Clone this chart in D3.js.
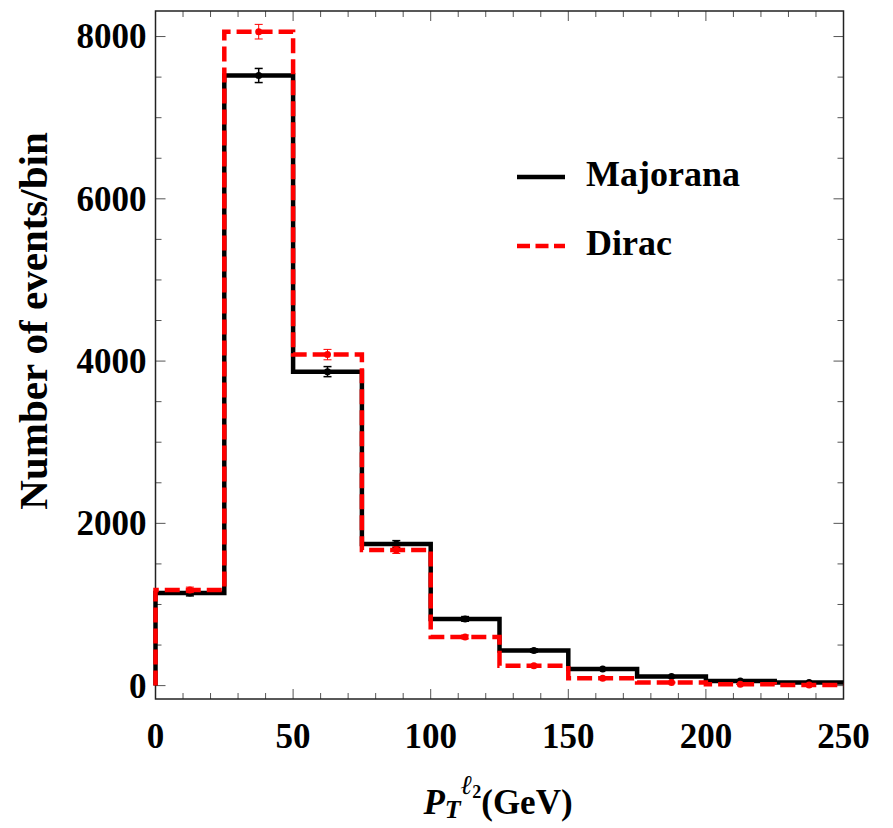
<!DOCTYPE html>
<html>
<head>
<meta charset="utf-8">
<script src="https://cdn.jsdelivr.net/npm/d3@7"></script>
<style>
  body { margin: 0; background: #fff; }
  text { font-family: "Liberation Serif", "Times New Roman", serif; font-weight: bold; }
</style>
</head>
<body>
<svg id="chart" width="893" height="828"></svg>
<script>
// bin edges (GeV) and events per bin
const binEdges = [0, 25, 50, 75, 100, 125, 150, 175, 200, 225, 250];
const majorana = [1140, 7520, 3870, 1745, 822, 432, 206, 111, 58, 37];
const dirac = [1180, 8060, 4080, 1670, 600, 245, 92, 38, 18, 8];
const majoranaErr = [34, 87, 62, 42, 29, 21, 14, 11, 8, 6];
const diracErr = [34, 90, 64, 41, 24, 16, 10, 6, 4, 3];
const xTicks = [0, 50, 100, 150, 200, 250];
const yTicks = [0, 2000, 4000, 6000, 8000];

const svg = d3.select("#chart");

const x = d3.scaleLinear().domain([0, 250]).range([155.5, 843.5]);
const y = d3.scaleLinear().domain([-165, 8315]).range([699, 11]);

const plotL = x.range()[0], plotR = x.range()[1];
const plotT = y.range()[1], plotB = y.range()[0];

// ticks (inward, on all four sides)
const ticks = svg.append("g").attr("stroke", "#555").attr("stroke-width", 1);
d3.range(0, 251, 10).forEach(v => {
    const len = v % 50 === 0 ? 10 : 6;
    ticks.append("line").attr("x1", x(v)).attr("x2", x(v)).attr("y1", plotB).attr("y2", plotB - len);
    ticks.append("line").attr("x1", x(v)).attr("x2", x(v)).attr("y1", plotT).attr("y2", plotT + len);
});
d3.range(0, 8001, 500).forEach(v => {
    const len = v % 2000 === 0 ? 10 : 6;
    ticks.append("line").attr("y1", y(v)).attr("y2", y(v)).attr("x1", plotL).attr("x2", plotL + len);
    ticks.append("line").attr("y1", y(v)).attr("y2", y(v)).attr("x1", plotR).attr("x2", plotR - len);
});

// frame
svg.append("rect")
    .attr("x", plotL).attr("y", plotT)
    .attr("width", plotR - plotL).attr("height", plotB - plotT)
    .attr("fill", "none").attr("stroke", "#222").attr("stroke-width", 1.5);

// tick labels
svg.append("g").selectAll("text")
    .data(xTicks).enter().append("text")
    .attr("x", d => x(d)).attr("y", 748)
    .attr("text-anchor", "middle")
    .attr("font-size", 35)
    .text(d => d);

svg.append("g").selectAll("text")
    .data(yTicks).enter().append("text")
    .attr("x", plotL - 9).attr("y", d => y(d))
    .attr("dy", "0.34em")
    .attr("text-anchor", "end")
    .attr("font-size", 35)
    .text(d => d);

// histogram step lines
function stepPoints(vals) {
    const pts = [[binEdges[0], 0]];
    vals.forEach((v, i) => {
        pts.push([binEdges[i], v]);
        pts.push([binEdges[i + 1], v]);
    });
    return pts;
}
const line = d3.line().x(d => x(d[0])).y(d => y(d[1]));

function drawSeries(vals, errs, color, dash, errWidth) {
    svg.append("path")
        .datum(stepPoints(vals))
        .attr("d", line)
        .attr("fill", "none")
        .attr("stroke", color)
        .attr("stroke-width", 4.5)
        .attr("stroke-dasharray", dash);

    const centers = vals.map((v, i) => ({ c: (binEdges[i] + binEdges[i + 1]) / 2, v: v, e: errs[i] }));
    const g = svg.append("g").attr("stroke", color).attr("stroke-width", errWidth);
    centers.forEach(d => {
        g.append("line").attr("x1", x(d.c)).attr("x2", x(d.c)).attr("y1", y(d.v - d.e)).attr("y2", y(d.v + d.e));
        g.append("line").attr("x1", x(d.c) - 4).attr("x2", x(d.c) + 4).attr("y1", y(d.v - d.e)).attr("y2", y(d.v - d.e));
        g.append("line").attr("x1", x(d.c) - 4).attr("x2", x(d.c) + 4).attr("y1", y(d.v + d.e)).attr("y2", y(d.v + d.e));
    });
    svg.append("g").selectAll("circle")
        .data(centers).enter().append("circle")
        .attr("cx", d => x(d.c)).attr("cy", d => y(d.v))
        .attr("r", 3.5).attr("fill", color);
}

drawSeries(majorana, majoranaErr, "#000", null, 1.5);
drawSeries(dirac, diracErr, "#ff0000", "15,6", 1);

// legend
svg.append("line").attr("x1", 517).attr("x2", 565).attr("y1", 177).attr("y2", 177)
    .attr("stroke", "#000").attr("stroke-width", 4.5);
svg.append("text").attr("x", 586).attr("y", 186).attr("font-size", 36).text("Majorana");
svg.append("line").attr("x1", 517).attr("x2", 565).attr("y1", 246).attr("y2", 246)
    .attr("stroke", "#ff0000").attr("stroke-width", 4.5).attr("stroke-dasharray", "13,5.5");
svg.append("text").attr("x", 586).attr("y", 255).attr("font-size", 36).text("Dirac");

// axis labels
svg.append("text")
    .attr("transform", "translate(47,321) rotate(-90)")
    .attr("text-anchor", "middle")
    .attr("font-size", 41)
    .text("Number of events/bin");

const xl = svg.append("text")
    .attr("x", 498).attr("y", 814)
    .attr("text-anchor", "middle")
    .attr("font-size", 35);
xl.append("tspan").attr("font-style", "italic").text("P");
xl.append("tspan").attr("font-style", "italic").attr("font-size", 26).attr("dy", 4).text("T");
xl.append("tspan").attr("font-style", "italic").attr("font-size", 27).attr("dy", -24).text("ℓ");
xl.append("tspan").attr("font-size", 18).attr("dy", 4).text("2");
xl.append("tspan").attr("dy", 16).text("(GeV)");
</script>
</body>
</html>
